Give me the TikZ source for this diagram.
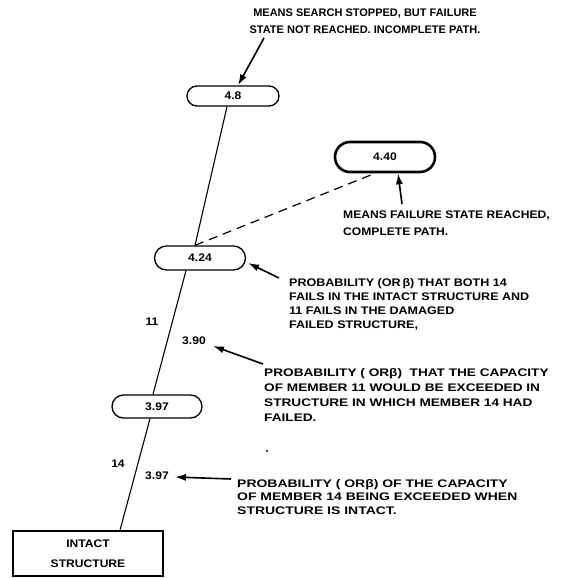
\documentclass[tikz,border=0pt]{standalone}
\usepackage{fontspec}
\setmainfont{Liberation Sans}
\newfontfamily\fa[FakeStretch=1.00]{Liberation Sans}
\newfontfamily\fb[FakeStretch=1.10]{Liberation Sans}
\newfontfamily\fe[FakeStretch=1.14]{Liberation Sans}
\newfontfamily\fc[FakeStretch=1.24]{Liberation Sans}
\newfontfamily\fd[FakeStretch=1.27]{Liberation Sans}
\usetikzlibrary{arrows.meta}
\begin{document}
\begin{tikzpicture}[x=1pt,y=-1pt,
  pill/.style={draw, line width=1.3pt, inner sep=0pt, font=\fb\bfseries\fontsize{11}{13}\selectfont},
  txt/.style={inner sep=0pt, align=left, anchor=north west},
  lbl/.style={inner sep=1pt, font=\fb\bfseries\fontsize{11}{13}\selectfont},
  link/.style={line width=1.1pt},
  arr/.style={line width=1.6pt, -{Latex[length=11pt,width=7pt]}},
  box/.style={draw, line width=1.5pt, inner sep=0pt, align=center, font=\fb\bfseries\fontsize{11}{20}\selectfont}
]
\fill[white] (0,0) rectangle (573,578);
\useasboundingbox (0,0) rectangle (573,578);

% state nodes
\node[pill, minimum width=92pt, minimum height=20pt, rounded corners=10pt] (n48) at (233,96) {4.8};
\node[pill, minimum width=100pt, minimum height=30pt, rounded corners=15pt, line width=2.6pt] (n440) at (385,157) {4.40};
\node[pill, minimum width=91pt, minimum height=24pt, rounded corners=12pt] (n424) at (200,258) {4.24};
\node[pill, minimum width=90pt, minimum height=23pt, rounded corners=11.5pt] (n397) at (157,406.5) {3.97};
\node[box, minimum width=150pt, minimum height=45pt] (intact) at (88,553.5) {INTACT\\STRUCTURE};

% path connectors
\draw[link] ([xshift=-6pt]n48.south) -- ([xshift=-5pt]n424.north);
\draw[link, dashed, dash pattern=on 9pt off 6pt, line width=1.2pt] ([xshift=-5pt]n424.north) -- ([xshift=-10pt]n440.south);
\draw[link] ([xshift=-14pt]n424.south) -- ([xshift=-4pt]n397.north);
\draw[link] ([xshift=-7pt]n397.south) -- ([xshift=32pt]intact.north);

% edge labels
\node[lbl] (m11) at (152,322) {11};
\node[lbl] (l390) at (194,341) {3.90};
\node[lbl] (m14) at (118,464) {14};
\node[lbl] (l397) at (157,476) {3.97};

% explanatory texts
\node[txt, anchor=north, align=center, font=\fa\bfseries\fontsize{11}{17}\selectfont] (t1) at (365,9)
  {MEANS SEARCH STOPPED, BUT FAILURE\\STATE NOT REACHED. INCOMPLETE PATH.};
\node[txt, font=\fb\bfseries\fontsize{11}{17}\selectfont] (t2) at (343,211)
  {MEANS FAILURE STATE REACHED,\\COMPLETE PATH.};
\node[txt, font=\fe\bfseries\fontsize{11}{14}\selectfont] (t3) at (289,278)
  {PROBABILITY (OR\,β) THAT BOTH 14\\FAILS IN THE INTACT STRUCTURE AND\\11 FAILS IN THE DAMAGED\\FAILED STRUCTURE,};
\node[txt, font=\fc\bfseries\fontsize{11}{15}\selectfont] (t4) at (264,368)
  {PROBABILITY ( ORβ)\ \ THAT THE CAPACITY\\OF MEMBER 11 WOULD BE EXCEEDED IN\\STRUCTURE IN WHICH MEMBER 14 HAD\\FAILED.};
\node[txt, font=\fd\bfseries\fontsize{11}{13.5}\selectfont] (t5) at (237,479)
  {PROBABILITY ( ORβ) OF THE CAPACITY\\OF MEMBER 14 BEING EXCEEDED WHEN\\STRUCTURE IS INTACT.};

\fill (267,451) circle (1.1pt);

% pointer arrows
\coordinate (c1) at (264,38);
\coordinate (c2) at (402,204);
\coordinate (c3) at (279,278);
\coordinate (c4) at (263,364);
\coordinate (c5) at (231,479);
\draw[arr] (c1) -- ([xshift=5pt]n48.north);
\draw[arr] (c2) -- ([xshift=13pt]n440.south);
\draw[arr] (c3) -- ([xshift=2pt,yshift=-5pt]n424.east);
\draw[arr] (c4) -- ([xshift=6pt,yshift=-5pt]l390.east);
\draw[arr] (c5) -- ([xshift=5pt,yshift=-1pt]l397.east);
\end{tikzpicture}
\end{document}
